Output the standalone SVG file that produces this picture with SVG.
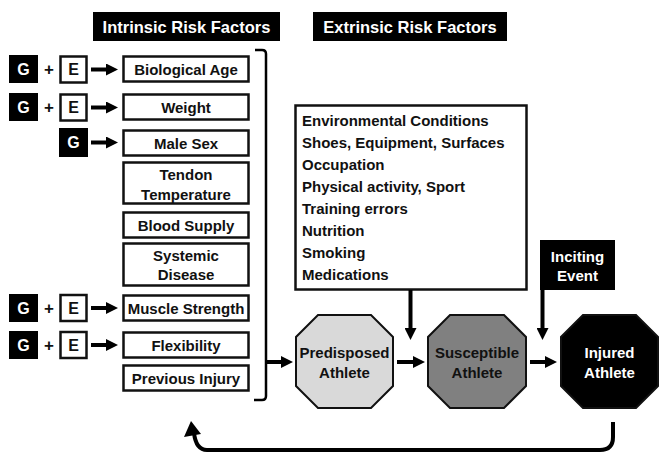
<svg xmlns="http://www.w3.org/2000/svg" width="660" height="453" viewBox="0 0 660 453">
<style>
text{font-family:"Liberation Sans",Arial,sans-serif;font-weight:bold;fill:#111}
.hdr{font-size:16.5px;fill:#fff;text-anchor:middle}
.box{fill:#fff;stroke:#111;stroke-width:2.5}
.lbl{font-size:15px;text-anchor:middle}
.ext{font-size:15px}
.g{fill:#000}
.gt{font-size:16px;fill:#fff;text-anchor:middle}
.et{font-size:16px;text-anchor:middle}
.pl{font-size:17px;text-anchor:middle}
.ln{stroke:#000;stroke-width:4;fill:none}
.oct{stroke:#111;stroke-width:2}
.ot{font-size:15px;text-anchor:middle}
</style>
<defs>
<marker id="ah" viewBox="0 0 12 12" refX="6" refY="6" markerWidth="12" markerHeight="12" markerUnits="userSpaceOnUse" orient="auto">
<path d="M0,0 L12,6 L0,12 z" fill="#000"/>
</marker>
</defs>

<g id="hdr-intrinsic">
<rect x="93" y="12" width="187" height="29" fill="#000"/>
<text class="hdr" x="186.5" y="32.5">Intrinsic Risk Factors</text>
</g>
<g id="hdr-extrinsic">
<rect x="313" y="12" width="194" height="29" fill="#000"/>
<text class="hdr" x="410" y="32.5">Extrinsic Risk Factors</text>
</g>

<g id="ge-age">
<rect class="g" x="9" y="55" width="29" height="28"/><text class="gt" x="23.5" y="75">G</text>
<text class="pl" x="49" y="75">+</text>
<rect class="box" x="60.5" y="56.5" width="26" height="26"/><text class="et" x="73.5" y="75">E</text>
</g>
<g id="ge-weight">
<rect class="g" x="9" y="93" width="29" height="28"/><text class="gt" x="23.5" y="113">G</text>
<text class="pl" x="49" y="113">+</text>
<rect class="box" x="60.5" y="94.5" width="26" height="26"/><text class="et" x="73.5" y="113">E</text>
</g>
<g id="g-sex">
<rect class="g" x="59" y="128" width="29" height="29"/><text class="gt" x="73.5" y="148">G</text>
</g>
<g id="ge-muscle">
<rect class="g" x="9" y="294" width="29" height="28"/><text class="gt" x="23.5" y="313.5">G</text>
<text class="pl" x="49" y="313.5">+</text>
<rect class="box" x="60.5" y="295" width="26" height="26"/><text class="et" x="73.5" y="313.5">E</text>
</g>
<g id="ge-flex">
<rect class="g" x="9" y="331" width="29" height="28"/><text class="gt" x="23.5" y="350.5">G</text>
<text class="pl" x="49" y="350.5">+</text>
<rect class="box" x="60.5" y="332" width="26" height="26"/><text class="et" x="73.5" y="350.5">E</text>
</g>

<g id="f-age"><rect class="box" x="123.5" y="56.5" width="125" height="25"/><text class="lbl" x="186" y="74.5">Biological Age</text></g>
<g id="f-weight"><rect class="box" x="123.5" y="94.5" width="125" height="25"/><text class="lbl" x="186" y="112.5">Weight</text></g>
<g id="f-sex"><rect class="box" x="123.5" y="130.5" width="125" height="25"/><text class="lbl" x="186" y="148.5">Male Sex</text></g>
<g id="f-temp"><rect class="box" x="123.5" y="162.5" width="125" height="41"/><text class="lbl" x="186" y="180">Tendon</text><text class="lbl" x="186" y="199.5">Temperature</text></g>
<g id="f-blood"><rect class="box" x="123.5" y="212.5" width="125" height="25"/><text class="lbl" x="186" y="230.5">Blood Supply</text></g>
<g id="f-disease"><rect class="box" x="123.5" y="243.5" width="125" height="42"/><text class="lbl" x="186" y="261">Systemic</text><text class="lbl" x="186" y="279.5">Disease</text></g>
<g id="f-muscle"><rect class="box" x="123.5" y="295.5" width="125" height="25"/><text class="lbl" x="186" y="313.5">Muscle Strength</text></g>
<g id="f-flex"><rect class="box" x="123.5" y="332.5" width="125" height="25"/><text class="lbl" x="186" y="350.5">Flexibility</text></g>
<g id="f-prev"><rect class="box" x="123.5" y="365.5" width="125" height="25"/><text class="lbl" x="186" y="383.5">Previous Injury</text></g>

<g id="extrinsic-box">
<rect class="box" x="295.5" y="105.5" width="231" height="184"/>
<text class="ext" x="302" y="126">Environmental Conditions</text>
<text class="ext" x="302" y="148">Shoes, Equipment, Surfaces</text>
<text class="ext" x="302" y="170">Occupation</text>
<text class="ext" x="302" y="191.5">Physical activity, Sport</text>
<text class="ext" x="302" y="213.5">Training errors</text>
<text class="ext" x="302" y="235.5">Nutrition</text>
<text class="ext" x="302" y="257.5">Smoking</text>
<text class="ext" x="302" y="279.5">Medications</text>
</g>

<g id="inciting-event">
<rect x="540" y="240" width="75" height="50" fill="#000"/>
<text class="lbl" x="577.5" y="261.5" style="fill:#fff">Inciting</text>
<text class="lbl" x="577.5" y="280.5" style="fill:#fff">Event</text>
</g>

<g id="predisposed">
<polygon class="oct" fill="#d9d9d9" points="318,315 371,315 393,337 393,386 371,408 318,408 296,386 296,337"/>
<text class="ot" x="344.5" y="358">Predisposed</text>
<text class="ot" x="344.5" y="378">Athlete</text>
</g>
<g id="susceptible">
<polygon class="oct" fill="#808080" points="450,315 504,315 526,337 526,386 504,408 450,408 428,386 428,337"/>
<text class="ot" x="477" y="358">Susceptible</text>
<text class="ot" x="477" y="378">Athlete</text>
</g>
<g id="injured">
<polygon class="oct" fill="#000" points="583,315 636,315 658,337 658,386 636,408 583,408 561,386 561,337"/>
<text class="ot" x="609.5" y="358" style="fill:#fff">Injured</text>
<text class="ot" x="609.5" y="378" style="fill:#fff">Athlete</text>
</g>

<g id="connectors">
<line class="ln" x1="91" y1="69.5" x2="112" y2="69.5" marker-end="url(#ah)"/>
<line class="ln" x1="91" y1="107.5" x2="112" y2="107.5" marker-end="url(#ah)"/>
<line class="ln" x1="91" y1="142.5" x2="112" y2="142.5" marker-end="url(#ah)"/>
<line class="ln" x1="91" y1="308" x2="112" y2="308" marker-end="url(#ah)"/>
<line class="ln" x1="91" y1="345" x2="112" y2="345" marker-end="url(#ah)"/>
<path d="M255,50 L262,50 Q266,50 266,54 L266,396 Q266,400 262,400 L254,400" fill="none" stroke="#000" stroke-width="2.5"/>
<line class="ln" x1="266" y1="362" x2="287" y2="362" marker-end="url(#ah)"/>
<line class="ln" x1="397" y1="362" x2="419" y2="362" marker-end="url(#ah)"/>
<line class="ln" x1="530" y1="362" x2="551" y2="362" marker-end="url(#ah)"/>
<line class="ln" x1="410.5" y1="290" x2="410.5" y2="334" marker-end="url(#ah)"/>
<line class="ln" x1="542.5" y1="290" x2="542.5" y2="334" marker-end="url(#ah)"/>
<path class="ln" d="M613,422 L613,437 Q613,450 600,450 L207,450 Q196,450 194,433"/>
<polygon points="191,421 184,437 201,434" fill="#000"/>
</g>
</svg>
